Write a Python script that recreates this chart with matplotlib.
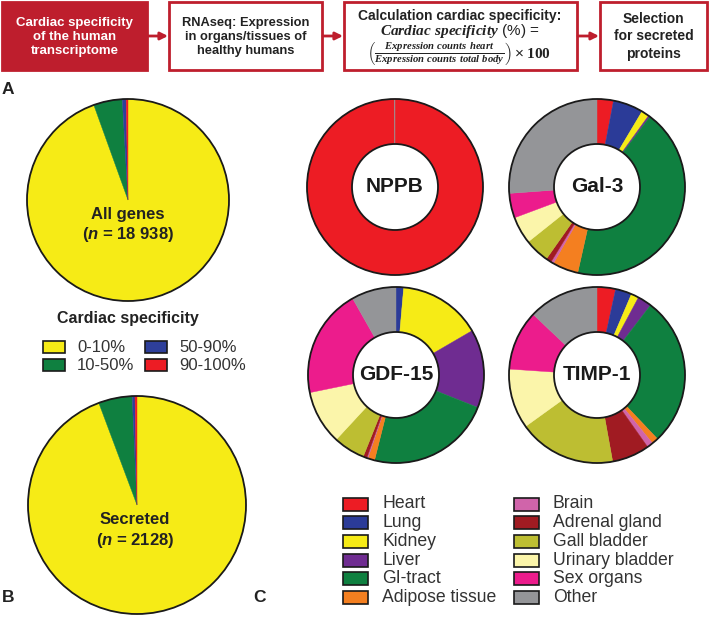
import numpy as np
import matplotlib
matplotlib.use("Agg")
import matplotlib.pyplot as plt
from matplotlib.patches import Rectangle, Circle

plt.rcParams['font.family'] = ['Liberation Sans', 'DejaVu Sans']
plt.rcParams['mathtext.fontset'] = 'custom'
plt.rcParams['mathtext.rm'] = 'Liberation Sans'
plt.rcParams['mathtext.it'] = 'Liberation Sans:italic:bold'
plt.rcParams['mathtext.sf'] = 'Liberation Serif:italic:bold'
plt.rcParams['mathtext.tt'] = 'Liberation Serif:bold'

# --- data ---
spec_labels = ['0-10%', '10-50%', '50-90%', '90-100%']
spec_colors = ['#F6EB16', '#0F8040', '#2E3F9A', '#ED1C24']
all_genes = [94.5, 4.6, 0.6, 0.3]
secreted = [94.3, 5.0, 0.4, 0.3]

organs = ['Heart', 'Lung', 'Kidney', 'Liver', 'GI-tract', 'Adipose tissue',
          'Brain', 'Adrenal gland', 'Gall bladder', 'Urinary bladder',
          'Sex organs', 'Other']
organ_colors = ['#ED1C24', '#2B3B98', '#F6EB16', '#6F2C91', '#0F8040', '#F47F20',
                '#D064AA', '#A01B22', '#BDBE32', '#FBF5AA', '#EC1C8C', '#949598']
nppb = [99.9, 0, 0, 0, 0, 0, 0, 0, 0, 0, 0, 0.1]
gal3 = [3.0, 5.5, 1.4, 0.3, 43.0, 4.7, 0.5, 1.0, 4.5, 5.0, 4.5, 26.0]
gdf15 = [0, 1.4, 15.2, 14.4, 22.9, 1.25, 0.2, 0.7, 5.8, 9.9, 20.0, 8.2]
timp1 = [3.4, 3.0, 1.4, 2.6, 27.5, 1.2, 1.1, 6.9, 17.9, 11.0, 11.0, 12.9]

W, H = 709, 624
RED = '#BE1E2D'

fig = plt.figure(figsize=(W / 100, H / 100), dpi=100)
ax = fig.add_axes([0, 0, 1, 1])


def Y(y):
    return H - y


def draw_pie(vals, cols, cx, cy, r, width=None):
    v = [a for a in vals if a > 0]
    c = [cols[i] for i, a in enumerate(vals) if a > 0]
    wp = {} if width is None else {'width': width}
    wedges, _ = ax.pie(v, colors=c, startangle=90, counterclock=False,
                       center=(cx, Y(cy)), radius=r, wedgeprops=wp)
    for w in wedges:
        w.set_edgecolor(w.get_facecolor())
        w.set_linewidth(0.3)
    ax.add_patch(Circle((cx, Y(cy)), r, fill=False, ec='#1a1a1a', lw=1.3))
    if width is not None:
        ax.add_patch(Circle((cx, Y(cy)), r - width, fill=False, ec='#1a1a1a', lw=1.3))


# --- top flow boxes ---
boxes = [(2, 147), (169, 322), (344, 577), (600, 707)]
for i, (x0, x1) in enumerate(boxes):
    ax.add_patch(Rectangle((x0, Y(70)), x1 - x0, 68, fc=RED if i == 0 else 'white',
                           ec=RED, lw=2))
for (a, b) in zip(boxes[:-1], boxes[1:]):
    ax.annotate('', xy=(b[0] - 1, Y(36)), xytext=(a[1] + 1, Y(36)),
                arrowprops=dict(arrowstyle='-|>', color=RED, lw=2,
                                mutation_scale=11, shrinkA=0, shrinkB=0))

ax.text(74.5, Y(37), 'Cardiac specificity\nof the human\ntranscriptome', color='white',
        fontsize=9.5, fontweight='bold', ha='center', va='center', linespacing=1.25)
ax.text(245.5, Y(37), 'RNAseq: Expression\nin organs/tissues of\nhealthy humans',
        color='#222222', fontsize=9.3, fontweight='bold', ha='center', va='center',
        linespacing=1.25)
ax.text(653.5, Y(36.5), 'Selection\nfor secreted\nproteins', color='#222222',
        fontsize=10, fontweight='bold', ha='center', va='center', linespacing=1.3)
ax.text(460, Y(16), 'Calculation cardiac specificity:', color='#222222',
        fontsize=10, fontweight='bold', ha='center', va='center')
ax.text(460, Y(31), r'$\mathsf{Cardiac\ specificity}$ (%) =', color='#222222',
        fontsize=11, ha='center', va='center')
ax.text(459, Y(53), r'$\left(\frac{\mathsf{Expression\ counts\ heart}}'
        r'{\mathsf{Expression\ counts\ total\ body}}\right)\times\mathtt{100}$',
        color='#222222', fontsize=11, ha='center', va='center')

# --- panel labels ---
for lab, x, y in [('A', 2, 90), ('B', 2, 597), ('C', 253, 598)]:
    ax.text(x, Y(y), lab, fontsize=12.5, fontweight='bold', ha='left', va='center',
            color='#222222')

# --- pies A / B ---
draw_pie(all_genes, spec_colors, 128, 200, 101)
ax.text(128, Y(214), 'All genes', fontsize=12, fontweight='bold', ha='center',
        va='center', color='#222222')
ax.text(128, Y(235), r'($\mathit{n}$ = 18 938)', fontsize=12, fontweight='bold',
        ha='center', va='center', color='#222222')

draw_pie(secreted, spec_colors, 137, 505, 109)
ax.text(135, Y(519), 'Secreted', fontsize=12, fontweight='bold', ha='center',
        va='center', color='#222222')
ax.text(135, Y(541), r'($\mathit{n}$ = 2128)', fontsize=12, fontweight='bold',
        ha='center', va='center', color='#222222')

# cardiac specificity legend
ax.text(128, Y(318), 'Cardiac specificity', fontsize=11.5, fontweight='bold',
        ha='center', va='center', color='#222222')
for i, (lab, col) in enumerate(zip(spec_labels, spec_colors)):
    bx = 43 if i < 2 else 145
    by = 347 if i % 2 == 0 else 365
    ax.add_patch(Rectangle((bx, Y(by + 6)), 22, 12, fc=col, ec='#1a1a1a', lw=1.2))
    ax.text(bx + 34, Y(by), lab, fontsize=12, ha='left', va='center', color='#333333')

# --- donuts C ---
donuts = [('NPPB', nppb, 395, 187), ('Gal-3', gal3, 597, 187),
          ('GDF-15', gdf15, 396, 375), ('TIMP-1', timp1, 597, 375)]
for name, vals, cx, cy in donuts:
    draw_pie(vals, organ_colors, cx, cy, 88, width=45)
    ax.text(cx, Y(cy), name, fontsize=15, fontweight='bold', ha='center',
            va='center', color='#1a1a1a')

# organ legend
for i, (lab, col) in enumerate(zip(organs, organ_colors)):
    col_i, row = divmod(i, 6)
    bx = 343 if col_i == 0 else 514
    by = 504 + row * 18.7
    ax.add_patch(Rectangle((bx, Y(by + 6.5)), 25, 13, fc=col, ec='#1a1a1a', lw=1.2))
    ax.text(bx + 39, Y(by), lab, fontsize=12.7, ha='left', va='center', color='#333333')

ax.set_xlim(0, W)
ax.set_ylim(0, H)
ax.set_aspect('auto')
ax.axis('off')

fig.savefig('out.png', dpi=100)
